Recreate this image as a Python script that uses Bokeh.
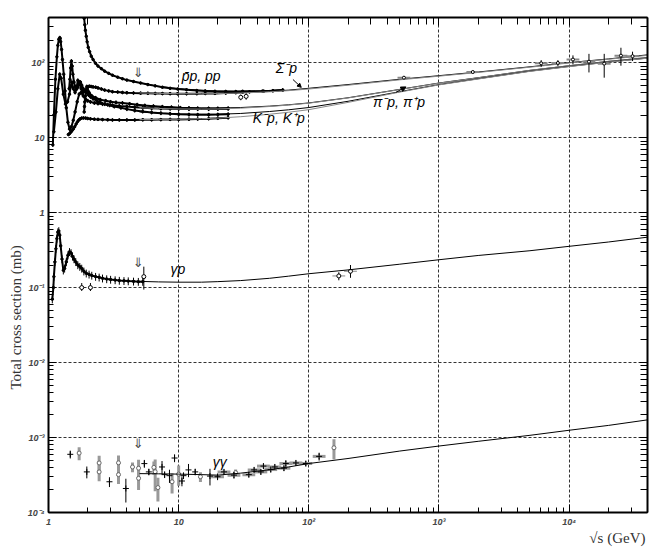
import numpy as np
from bokeh.plotting import figure
from bokeh.models import (Range1d, LogAxis, FixedTicker, Label, ColumnDataSource,
                          Arrow, NormalHead, Title)
from bokeh.embed import file_html
from bokeh.resources import INLINE

# ---------------- axis ticks ----------------
x_ticks = [1, 10, 100, 1000, 10000]
x_tick_labels = ["1", "10", "10²", "10³", "10⁴"]
y_ticks = [1e-4, 1e-3, 1e-2, 1e-1, 1, 10, 100]
y_tick_labels = ["10⁻⁴", "10⁻³", "10⁻²", "10⁻¹", "1", "10", "10²"]

# ---------------- hadronic data ----------------
pbp_x = [1.88, 1.9, 1.92, 1.95, 1.98, 2.02, 2.07, 2.13, 2.2, 2.3, 2.4, 2.55, 2.7, 2.9, 3.1, 3.4, 3.7, 4.0,
         4.5, 5.1, 5.8, 6.6, 7.5, 8.6, 9.8, 11.5, 13.8, 16, 19, 23, 27.5, 31, 44, 53, 63]
pbp_y = [390, 320, 270, 225, 190, 160, 140, 122, 110, 98, 90, 83, 77, 72, 68, 64, 61, 58.5,
         56, 53.5, 51, 49, 47, 45.5, 44.5, 43.5, 42.5, 42, 41.5, 41.3, 41.2, 41.5, 41.7, 42.3, 43]

pp_x = [1.88, 1.89, 1.9, 1.92, 1.95, 1.98, 2.02, 2.07, 2.13, 2.2, 2.3, 2.4, 2.55, 2.7, 2.9, 3.1, 3.4, 3.7,
        4.0, 4.5, 5.1, 5.8, 6.6, 7.5, 8.6, 9.8, 11.5, 13.8, 16, 19, 23, 27.5, 31, 35, 45, 53, 63]
pp_y = [22, 26, 30, 36, 42, 46, 48, 48.5, 48, 47.5, 47, 46, 44.5, 43, 42, 41, 40.5, 40,
        39.7, 39.4, 39.2, 39, 38.8, 38.7, 38.6, 38.5, 38.5, 38.6, 38.8, 38.9, 39.3, 39.8, 40.3, 40.8, 41.6, 42.3, 43]

pip_x = [1.08, 1.1, 1.13, 1.16, 1.18, 1.2, 1.22, 1.23, 1.24, 1.26, 1.28, 1.31, 1.34, 1.37, 1.41, 1.45, 1.5,
         1.55, 1.6, 1.66, 1.72, 1.78, 1.85, 1.92, 2.0, 2.1, 2.25, 2.4, 2.6, 2.85, 3.1, 3.5, 4.0, 4.6, 5.3,
         6.2, 7.3, 8.6, 10, 12, 14, 17, 20, 24]
pip_y = [8, 20, 60, 120, 170, 205, 215, 210, 190, 150, 110, 70, 42, 25, 16, 13, 14,
         17, 22, 30, 38, 40, 36, 33, 31, 30, 29, 28.5, 28, 27.5, 27, 26.5, 26, 25.5, 25,
         24.7, 24.5, 24.3, 24.1, 24, 24, 24, 24.1, 24.3]

pim_x = [1.1, 1.14, 1.18, 1.22, 1.25, 1.3, 1.35, 1.4, 1.45, 1.48, 1.51, 1.55, 1.6, 1.65, 1.68, 1.72, 1.78,
         1.85, 1.92, 1.97, 2.05, 2.15, 2.3, 2.5, 2.75, 3.0, 3.3, 3.7, 4.2, 4.8, 5.5, 6.4, 7.5, 8.8, 10.3,
         12, 14, 17, 20, 24]
pim_y = [12, 22, 45, 70, 62, 38, 28, 30, 38, 48, 55, 45, 40, 48, 58, 55, 45,
         40, 42, 48, 40, 36, 34, 32, 31, 30, 29.5, 29, 28.2, 27.5, 26.8, 26.3, 25.8, 25.4, 25,
         24.8, 24.6, 24.5, 24.5, 24.6]

kmp_x = [1.44, 1.46, 1.48, 1.5, 1.52, 1.54, 1.57, 1.6, 1.64, 1.68, 1.72, 1.76, 1.8, 1.85, 1.9, 1.96, 2.03,
         2.1, 2.2, 2.35, 2.5, 2.7, 2.95, 3.2, 3.6, 4.0, 4.6, 5.3, 6.2, 7.3, 8.6, 10, 12, 14, 17, 20, 24]
kmp_y = [45, 60, 85, 105, 90, 70, 55, 48, 44, 47, 52, 55, 50, 45, 42, 40, 37,
         35, 33, 31, 29.5, 28, 27, 26, 25, 24, 23, 22.3, 21.7, 21.2, 20.8, 20.5, 20.3, 20.2, 20.2, 20.3, 20.5]

kpp_x = [1.42, 1.45, 1.48, 1.51, 1.55, 1.59, 1.63, 1.67, 1.71, 1.75, 1.8, 1.86, 1.93, 2.0, 2.1, 2.25, 2.4,
         2.6, 2.85, 3.1, 3.5, 4.0, 4.6, 5.3, 6.2, 7.3, 8.6, 10, 12, 14, 17, 20, 24]
kpp_y = [11, 11.3, 11.8, 12.3, 13, 14, 15.2, 16.3, 17.2, 17.8, 18.2, 18.3, 18.2, 18, 17.8, 17.6, 17.5,
         17.4, 17.3, 17.2, 17.2, 17.2, 17.2, 17.3, 17.3, 17.4, 17.5, 17.5, 17.6, 17.7, 17.9, 18.1, 18.4]

sgp_x = [30, 33]
sgp_y = [34.5, 35.5]
sgp_lo = [31.5, 32.0]
sgp_hi = [37.5, 39.0]

# collider / cosmic-ray points
he_x = [538, 1820, 6100, 8200, 10700, 14200, 18600, 25000, 30700]
he_y = [63, 75, 98, 99, 110, 103, 97, 124, 122]
he_lo = [61, 72, 88, 90, 95, 74, 63, 91, 105]
he_hi = [65, 78, 108, 108, 125, 131, 131, 158, 140]

# fits
fit_x = [5, 7, 10, 15, 20, 30, 50, 70, 100, 200, 500, 1000, 2000, 5000, 10000, 20000, 40000]
fit_pbp = [54, 48.5, 45, 42.8, 41.8, 41.2, 41.5, 43, 45.5, 51, 60, 67, 75, 88, 100, 112, 127]
fit_pp = [39.5, 38.9, 38.6, 38.5, 38.7, 39.3, 40.8, 42.3, 44.5, 50, 59, 66, 74, 87, 99, 111, 125]
fit_pim = [27, 26, 25.2, 24.8, 24.8, 25.2, 26.3, 27.4, 29, 34, 44, 53.5, 63, 79, 91, 104, 117]
fit_pip = [25, 24.5, 24.1, 24, 24.1, 24.7, 26, 27.2, 28.8, 33.8, 43.8, 53.3, 62.8, 78.8, 90.8, 103.8, 116.8]
fit_kmp = [22, 21.2, 20.7, 20.5, 20.5, 21, 22.3, 23.5, 25.2, 30.5, 41, 51, 61, 77, 89, 102, 115]
fit_kpp = [17.4, 17.5, 17.6, 17.9, 18.2, 19, 20.5, 21.8, 23.6, 29.5, 40.5, 50.5, 60.5, 76.5, 88.5, 101.5, 114.5]

# ---------------- gamma p ----------------
gp_x = [1.07, 1.09, 1.1, 1.12, 1.14, 1.16, 1.18, 1.2, 1.22, 1.24, 1.27, 1.3, 1.33, 1.37, 1.41, 1.45, 1.49,
        1.53, 1.57, 1.62, 1.68, 1.74, 1.8, 1.87, 1.95, 2.05, 2.15, 2.3, 2.45, 2.6, 2.8, 3.0, 3.25, 3.5,
        3.8, 4.1, 4.5, 4.9, 5.3]
gp_y = [0.07, 0.1, 0.14, 0.22, 0.33, 0.45, 0.55, 0.57, 0.5, 0.36, 0.24, 0.17, 0.18, 0.22, 0.27, 0.3, 0.29,
        0.26, 0.24, 0.22, 0.2, 0.19, 0.18, 0.165, 0.155, 0.15, 0.145, 0.14, 0.137, 0.133, 0.13, 0.128,
        0.126, 0.124, 0.123, 0.122, 0.121, 0.12, 0.12]
gp2_x = [1.8, 2.1, 5.4]
gp2_y = [0.1, 0.1, 0.14]
gp2_lo = [0.09, 0.09, 0.094]
gp2_hi = [0.115, 0.115, 0.19]
gph_x = [170, 209]
gph_y = [0.143, 0.165]
gph_lo = [0.125, 0.135]
gph_hi = [0.16, 0.2]
fit_gp = [0.121, 0.119, 0.118, 0.118, 0.12, 0.124, 0.133, 0.142, 0.153, 0.172, 0.205, 0.235, 0.268,
          0.31, 0.355, 0.405, 0.47]

# ---------------- gamma gamma ----------------
ggb_x = [1.47, 1.97, 2.94, 3.93, 5.45, 5.9, 7.45, 7.8, 8.5, 9.3, 10.6, 10.9, 11.9, 13.4, 17.4, 19.9,
         22.3, 26.6, 34.6, 38, 42.8, 44.8, 51, 54.8, 64.4, 66.6, 79.6, 94.8, 120]
ggb_y = [5.97e-4, 3.48e-4, 2.57e-4, 2.09e-4, 4.49e-4, 3.48e-4, 4.05e-4, 3.2e-4, 3.1e-4, 5.33e-4, 2.63e-4,
         3.1e-4, 3.7e-4, 3.48e-4, 3.06e-4, 3.0e-4, 3.48e-4, 3.15e-4, 3.2e-4, 3.7e-4, 3.48e-4, 4.16e-4,
         3.74e-4, 4.05e-4, 3.9e-4, 4.5e-4, 4.58e-4, 4.5e-4, 5.6e-4]
ggb_err = [0.12, 0.18, 0.15, 0.35, 0.12, 0.1, 0.2, 0.1, 0.2, 0.12, 0.15, 0.1, 0.2, 0.1, 0.25, 0.1,
           0.08, 0.1, 0.08, 0.08, 0.08, 0.08, 0.08, 0.08, 0.08, 0.1, 0.08, 0.08, 0.12]
ggg_x = [1.72, 2.45, 2.45, 3.45, 3.45, 4.42, 4.92, 4.92, 6.45, 6.6, 6.93, 8.9, 10.0, 14.7, 27.4, 156]
ggg_y = [6.2e-4, 4.58e-4, 3.48e-4, 4.6e-4, 3.2e-4, 4.05e-4, 3.9e-4, 2.86e-4, 4.0e-4, 3.5e-4, 2.15e-4,
         2.57e-4, 3.25e-4, 3.0e-4, 3.4e-4, 7.3e-4]
ggg_err = [0.2, 0.25, 0.25, 0.25, 0.25, 0.15, 0.3, 0.3, 0.2, 0.45, 0.35, 0.3, 0.3, 0.15, 0.1, 0.3]
fit_gg = [3.3e-4, 3.28e-4, 3.25e-4, 3.2e-4, 3.15e-4, 3.35e-4, 3.72e-4, 4.05e-4, 4.5e-4, 5.25e-4, 6.6e-4,
          7.7e-4, 8.9e-4, 1.07e-3, 1.25e-3, 1.45e-3, 1.72e-3]

# ---------------- figure ----------------
p = figure(width=664, height=547, x_axis_type="log", y_axis_type="log",
           x_range=Range1d(1, 4e4), y_range=Range1d(1e-4, 400),
           output_backend="svg", toolbar_location=None,
           min_border_left=48, min_border_right=17, min_border_top=17, min_border_bottom=31)
p.outline_line_color = "black"
p.outline_line_width = 1
p.background_fill_color = "white"

x_minor = [m * d for d in [1, 10, 100, 1000, 10000] for m in range(2, 10) if m * d < 4e4]
y_minor = [m * d for d in [1e-4, 1e-3, 1e-2, 1e-1, 1, 10, 100] for m in range(2, 10) if m * d < 400]

label_font = "Liberation Sans"
for ax, ticks, minor, labels in [(p.xaxis[0], x_ticks, x_minor, x_tick_labels),
                                 (p.yaxis[0], y_ticks, y_minor, y_tick_labels)]:
    ax.ticker = FixedTicker(ticks=ticks, minor_ticks=minor)
    ax.major_label_overrides = {t: l for t, l in zip(ticks, labels)}
    ax.major_label_text_font = label_font
    ax.major_label_text_font_style = "bold italic"
    ax.major_label_text_font_size = "9px"
    ax.major_tick_in = 8
    ax.major_tick_out = 0
    ax.minor_tick_in = 5
    ax.minor_tick_out = 0
    ax.axis_line_width = 2
    ax.major_label_standoff = 4

for loc, ticks, minor in [("above", x_ticks, x_minor), ("right", y_ticks, y_minor)]:
    ax = LogAxis(ticker=FixedTicker(ticks=ticks, minor_ticks=minor),
                 major_tick_in=8, major_tick_out=0, minor_tick_in=7, minor_tick_out=0,
                 axis_line_width=2, major_label_text_color=None,
                 major_label_text_font_size="1px", major_label_standoff=0)
    p.add_layout(ax, loc)

p.xgrid.ticker = FixedTicker(ticks=x_ticks[1:])
p.ygrid.ticker = FixedTicker(ticks=y_ticks[1:])
for g in (p.xgrid[0], p.ygrid[0]):
    g.grid_line_color = "#333333"
    g.grid_line_dash = "3 2"
    g.grid_line_width = 1

# axis titles
p.add_layout(Title(text="Total cross section (mb)", align="left", offset=123,
                   text_font="Liberation Serif", text_font_size="15px", text_font_style="normal",
                   text_color="#333333", standoff=1), "left")
p.add_layout(Title(text="√s (GeV)", align="right", offset=2, vertical_align="top",
                   text_font="Liberation Serif", text_font_size="15px", text_font_style="normal",
                   text_color="#333333", standoff=0), "below")


def errbars(xs, ys, lo, hi, color="black", width=1):
    src = ColumnDataSource(dict(x=xs, y=ys, lo=lo, hi=hi))
    p.segment(x0="x", y0="lo", x1="x", y1="hi", source=src, line_color=color, line_width=width)
    return src


def band(xs, ys, rel, color="black"):
    ya = np.array(ys, dtype=float)
    src = errbars(xs, ys, list(ya * (1 - rel)), list(ya * (1 + rel)), color)
    p.line(x="x", y="y", source=src, line_color=color, line_width=2)
    p.scatter(x="x", y="y", source=src, marker="circle", size=2.5, line_color=color,
              fill_color=color)


# hadronic low-energy bands
band(pbp_x, pbp_y, 0.04)
band(pp_x, pp_y, 0.05)
band(pip_x, pip_y, 0.06)
band(pim_x, pim_y, 0.06)
band(kmp_x, kmp_y, 0.06)
band(kpp_x, kpp_y, 0.05)

# fits
for ys, col in [(fit_pbp, "black"), (fit_pp, "#888888"), (fit_pim, "black"), (fit_pip, "#888888"),
                (fit_kmp, "black"), (fit_kpp, "#888888")]:
    p.line(fit_x, ys, line_color=col, line_width=1)

# sigma-p and high-energy points
s = errbars(sgp_x, sgp_y, sgp_lo, sgp_hi)
p.scatter(x="x", y="y", source=s, marker="circle", size=4, line_color="black", fill_color="white")
s = errbars(he_x, he_y, he_lo, he_hi)
hx = np.array(he_x, dtype=float)
p.segment(x0=list(hx / 1.12), y0=he_y, x1=list(hx * 1.12), y1=he_y, line_color="#888888", line_width=2)
p.scatter(x="x", y="y", source=s, marker="circle", size=3, line_color="black", fill_color="white")

# gamma p
band(gp_x, gp_y, 0.12)
s = errbars(gp2_x, gp2_y, gp2_lo, gp2_hi)
p.scatter(x="x", y="y", source=s, marker="circle", size=4, line_color="black", fill_color="white")
s = errbars(gph_x, gph_y, gph_lo, gph_hi)
gx = np.array(gph_x, dtype=float)
p.segment(x0=list(gx / 1.12), y0=gph_y, x1=list(gx * 1.12), y1=gph_y, line_color="#888888", line_width=1)
p.scatter(x="x", y="y", source=s, marker="circle", size=4, line_color="black", fill_color="white")
p.line(fit_x, fit_gp, line_color="black", line_width=1)

# gamma gamma
gy = np.array(ggg_y)
ge = np.array(ggg_err)
s = errbars(ggg_x, ggg_y, list(gy * (1 - ge)), list(gy * (1 + ge)), color="#999999", width=3)
p.scatter(x="x", y="y", source=s, marker="circle", size=4, line_color="#666666", fill_color="white")
by = np.array(ggb_y)
be = np.array(ggb_err)
bx = np.array(ggb_x)
s = errbars(ggb_x, ggb_y, list(by * (1 - be)), list(by * (1 + be)))
sel = bx > 18
p.segment(x0=list(bx[sel] / 1.12), y0=list(by[sel]), x1=list(bx[sel] * 1.12), y1=list(by[sel]),
          line_color="#999999", line_width=3)
p.scatter(x="x", y="y", source=s, marker="cross", size=6, line_color="black")
p.line(fit_x, fit_gg, line_color="black", line_width=1)

# ---------------- labels ----------------
txt = dict(text_font="Liberation Sans", text_font_style="italic", text_font_size="14px",
           text_color="black")
p.add_layout(Label(x=10.55, y=51.2, text="p̄p, pp", **txt))
p.add_layout(Label(x=55.7, y=67.3, text="Σ⁻p", **txt))
p.add_layout(Label(x=311, y=23.2, text="π⁻p, π⁺p", **txt))
p.add_layout(Label(x=37.1, y=14.3, text="K⁻p, K⁺p", **txt))
p.add_layout(Label(x=8.66, y=0.14, text="γp", **txt))
p.add_layout(Label(x=18.3, y=3.7e-4, text="γγ", **txt))
for yy in (73.8, 0.214, 8.4e-4):
    p.add_layout(Label(x=4.88, y=yy, text="⇓", text_font="DejaVu Sans", text_font_size="13px",
                       text_color="#444444", text_align="center", text_baseline="middle"))

p.add_layout(Arrow(end=NormalHead(size=5, fill_color="black", line_color="black"),
                   x_start=467, y_start=40.2, x_end=557, y_end=47.5, line_width=1))
p.add_layout(Arrow(end=NormalHead(size=4, fill_color="black", line_color="black"),
                   x_start=75.5, y_start=59.6, x_end=87.5, y_end=46.8, line_width=1))

open("out.html", "w").write(file_html(p, INLINE))
